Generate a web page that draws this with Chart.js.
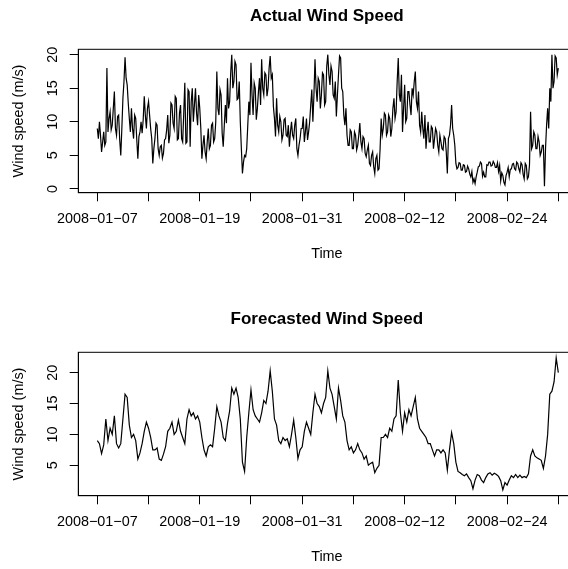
<!DOCTYPE html>
<html>
<head>
<meta charset="utf-8">
<script src="https://cdn.jsdelivr.net/npm/chart.js@4/dist/chart.umd.min.js"></script>
<style>
  html, body { margin: 0; padding: 0; background: #fff; overflow: hidden; }
  #wrap { position: relative; width: 568px; height: 569px; overflow: hidden; background: #fff; }
  canvas { position: absolute; left: 0; }
</style>
</head>
<body>
<div id="wrap">
  <canvas id="actualChart" width="600" height="303" style="top:-18px"></canvas>
  <canvas id="forecastChart" width="600" height="303" style="top:285px"></canvas>
</div>
<script>
// Wind speed series (m/s), both starting 2008-01-07 00:00
const startDate = '2008-01-07';
const actualStepDays = 0.125;   // 3-hourly observations
const forecastStepDays = 0.25;  // 6-hourly forecasts

// one row per day, 8 readings per day
const actualSpeed = [
  9.0, 7.5, 10.0, 8.0, 5.5, 7.0, 8.5, 6.5,
  7.0, 18.0, 8.5, 10.5, 11.5, 8.8, 9.5, 12.0,
  14.5, 9.0, 8.0, 10.8, 11.0, 7.3, 5.0, 9.0,
  13.5, 16.0, 19.6, 16.5, 15.5, 12.8, 10.5, 8.5,
  12.0, 9.0, 7.5, 11.0, 10.5, 7.3, 4.5, 7.8,
  8.5, 10.0, 8.3, 10.3, 13.8, 11.0, 9.0, 12.0,
  13.0, 11.0, 9.0, 7.5, 3.8, 6.0, 7.5, 9.8,
  9.5, 6.0, 5.0, 6.3, 6.5, 4.6, 5.3, 7.3,
  7.5, 8.8, 11.0, 6.8, 8.0, 12.8, 12.5, 9.8,
  9.0, 13.8, 13.5, 7.3, 7.5, 11.3, 12.5, 7.5,
  7.0, 11.3, 15.8, 6.8, 7.0, 14.8, 14.5, 6.3,
  13.0, 15.0, 10.0, 12.5, 15.0, 11.3, 9.5, 14.0,
  12.0, 9.0, 4.5, 6.5, 8.0, 5.5, 4.5, 7.0,
  9.0, 6.0, 6.5, 9.5, 9.8, 7.0, 7.5, 10.0,
  17.5, 12.0, 11.0, 14.8, 14.0, 8.3, 6.3, 9.5,
  12.5, 9.8, 16.5, 12.0, 13.0, 17.3, 20.0, 15.0,
  16.0, 19.0, 18.5, 13.3, 13.5, 16.0, 10.0, 6.0,
  2.3, 4.0, 5.0, 4.8, 6.0, 9.5, 13.0, 11.0,
  18.8, 14.0, 11.0, 15.8, 15.0, 10.3, 12.0, 14.5,
  16.5, 12.5, 19.3, 15.0, 14.0, 17.3, 17.0, 13.8,
  15.0, 18.0, 19.8, 16.5, 17.0, 12.3, 10.5, 7.8,
  13.5, 9.5, 8.5, 10.8, 10.0, 7.3, 8.0, 10.3,
  10.5, 8.0, 7.8, 9.5, 6.3, 8.5, 10.0, 8.0,
  7.5, 9.5, 10.5, 6.0, 5.0, 6.5, 7.5, 9.0,
  9.0, 10.8, 7.0, 8.5, 10.5, 7.3, 8.5, 10.0,
  12.5, 14.8, 10.0, 14.0, 19.3, 15.0, 13.0, 16.5,
  16.0, 12.0, 14.0, 17.3, 17.0, 12.5, 13.0, 18.3,
  20.0, 17.0, 15.5, 18.3, 17.5, 14.0, 13.5, 16.0,
  10.8, 14.0, 17.0, 19.8, 19.5, 15.0, 14.5, 11.0,
  9.5, 12.0, 8.0, 6.5, 6.5, 8.8, 8.5, 6.0,
  6.0, 8.5, 8.0, 5.8, 6.5, 8.0, 9.8, 7.0,
  6.0, 7.8, 7.5, 5.3, 4.8, 5.8, 6.5, 3.8,
  3.5, 5.0, 5.5, 3.3, 2.3, 4.5, 5.0, 2.8,
  3.0, 6.0, 10.5, 8.0, 9.0, 11.3, 11.0, 8.0,
  8.5, 11.0, 10.5, 7.8, 9.0, 12.0, 13.5, 10.5,
  11.5, 16.0, 19.5, 14.0, 13.0, 17.0, 8.5, 12.0,
  15.5, 10.0, 10.5, 14.5, 14.5, 12.5, 11.0, 15.0,
  14.0, 16.0, 17.5, 13.0, 12.0, 14.5, 9.5, 8.5,
  11.5, 9.0, 7.5, 11.0, 6.0, 8.5, 10.0, 7.0,
  7.0, 9.3, 9.0, 6.0, 7.5, 9.0, 8.5, 6.5,
  5.5, 8.0, 7.0, 6.0, 5.8, 7.8, 7.5, 5.5,
  2.3, 7.5, 8.0, 9.5, 12.5, 9.0, 8.0, 6.5,
  3.8, 3.0, 3.2, 3.9, 3.8, 2.8, 2.8, 3.6,
  3.5, 2.5, 2.6, 3.4, 3.0, 2.2, 1.8, 2.6,
  1.0, 1.5, 0.8, 1.8, 2.5, 3.3, 3.4, 4.0,
  3.8, 1.9, 2.5, 1.8, 1.8, 3.6, 3.5, 4.0,
  4.0, 3.4, 3.5, 4.1, 3.8, 3.2, 3.2, 3.9,
  2.6, 3.5, 1.2, 2.4, 2.0, 1.0, 0.6, 2.0,
  2.5, 3.2, 1.8, 2.9, 3.0, 3.7, 3.8, 3.0,
  2.8, 4.0, 3.8, 3.0, 2.5, 3.9, 3.6, 2.2,
  1.5, 3.8, 3.5, 1.5, 1.8, 3.6, 11.5, 6.0,
  6.5, 8.5, 8.0, 6.0, 6.0, 7.8, 7.0, 5.0,
  5.5, 6.5, 6.5, 0.4, 6.0, 9.5, 12.0, 9.0,
  15.0, 13.0, 20.0, 15.0, 16.0, 19.8, 19.5, 17.0,
  18.0
];

// one row per day, 4 forecasts per day
const forecastSpeed = [
  9.0, 8.5, 6.9, 8.3,    12.5, 9.0, 11.0, 10.0,  13.0, 8.5, 7.8, 8.5,    12.5, 16.5, 16.0, 11.5,
  9.5, 10.0, 9.0, 6.0,   7.0, 8.5, 10.5, 12.0,   11.0, 9.5, 7.5, 7.5,    7.8, 6.0, 5.8, 6.8,
  8.0, 10.5, 11.0, 12.0, 10.0, 10.5, 12.3, 10.5, 9.5, 8.5, 12.5, 14.0,   13.0, 13.5, 12.5, 13.0,
  12.0, 9.5, 7.5, 6.5,   8.0, 8.3, 8.0, 11.0,    14.5, 13.0, 12.0, 9.5,  9.0, 11.8, 13.8, 17.5,
  16.5, 17.5, 16.0, 12.5, 5.5, 4.0, 9.5, 13.5,   17.2, 14.0, 13.0, 12.5, 12.0, 13.5, 15.5, 15.0,
  17.0, 20.3, 17.0, 12.5, 11.5, 9.0, 8.5, 9.5,   9.0, 9.3, 8.0, 10.0,    12.3, 9.5, 6.1, 7.5,
  8.0, 10.5, 12.0, 11.0, 10.0, 13.5, 16.5, 15.0, 14.5, 13.5, 15.0, 16.0, 20.3, 17.5, 16.5, 14.5,
  12.5, 17.5, 15.5, 13.0, 12.0, 9.0, 7.5, 8.0,   7.0, 7.5, 8.5, 7.5,     7.0, 6.0, 6.5, 5.0,
  5.3, 5.5, 3.8, 4.5,    5.0, 9.5, 9.5, 10.0,    9.5, 11.0, 10.5, 12.5,  13.0, 18.8, 13.5, 10.5,
  13.5, 12.0, 14.0, 13.0, 14.5, 16.0, 12.5, 11.0, 10.5, 10.0, 9.5, 8.5,  8.5, 7.5, 6.5, 7.5,
  7.5, 7.0, 7.5, 7.0,    4.2, 7.5, 10.3, 8.5,    5.5, 4.0, 3.8, 3.5,     3.3, 3.6, 3.0, 2.5,
  1.2, 2.6, 3.5, 3.3,    2.6, 2.2, 3.0, 3.6,     3.8, 3.4, 3.7, 3.5,     3.2, 2.5, 1.0, 2.2,
  1.8, 2.6, 3.3, 3.0,    3.5, 3.0, 3.4, 3.0,     3.2, 3.0, 3.6, 6.5,     7.5, 6.5, 6.2, 6.0,
  5.8, 4.5, 6.5, 10.0,   16.5, 17.0, 18.5, 22.4, 20.0
];

// Date axis: a tick every 6 days, every other one labelled
const xTickDays   = [0, 6, 12, 18, 24, 30, 36, 42, 48, 54];
const xTickLabels = ['2008\u221201\u221207', '', '2008\u221201\u221219', '', '2008\u221201\u221231', '',
                     '2008\u221202\u221212', '', '2008\u221202\u221224', ''];
const yTicksActual   = [0, 5, 10, 15, 20];
const yTicksForecast = [5, 10, 15, 20];

const FONT = '"Liberation Sans", Arial, Helvetica, sans-serif';
Chart.defaults.font.family = FONT;
Chart.defaults.color = '#000';

function toPoints(values, step) {
  return values.map((v, i) => ({ x: i * step, y: v }));
}

// Closed frame round the plot region
const frame = {
  id: 'frame',
  afterDraw(chart) {
    const { ctx, chartArea: a } = chart;
    ctx.save();
    ctx.strokeStyle = '#000';
    ctx.lineWidth = 1;
    ctx.strokeRect(a.left, a.top, a.right - a.left, a.bottom - a.top);
    ctx.restore();
  }
};

// Value labels on the y axis, written parallel to the axis
const verticalTickLabels = {
  id: 'verticalTickLabels',
  afterDraw(chart) {
    const { ctx } = chart;
    const s = chart.scales.y;
    ctx.save();
    ctx.font = '14.4px ' + FONT;
    ctx.fillStyle = '#000';
    ctx.textAlign = 'center';
    ctx.textBaseline = 'middle';
    s.ticks.forEach(t => {
      const py = s.getPixelForValue(t.value);
      ctx.save();
      ctx.translate(53.3, py);
      ctx.rotate(-Math.PI / 2);
      ctx.fillText(String(t.value), 0, 0);
      ctx.restore();
    });
    ctx.restore();
  }
};

function makeChart(id, title, values, step, yMin, yMax, yTicks) {
  return new Chart(document.getElementById(id), {
    type: 'line',
    data: {
      datasets: [{
        data: toPoints(values, step),
        borderColor: '#000',
        borderWidth: 1.2,
        pointRadius: 0,
        tension: 0,
        fill: false
      }]
    },
    options: {
      responsive: false,
      animation: false,
      events: [],
      layout: { padding: { left: 0, right: 24.6, top: 0, bottom: 0 } },
      plugins: {
        legend: { display: false },
        tooltip: { enabled: false },
        title: {
          display: true,
          text: title,
          fullSize: false,
          color: '#000',
          font: { size: 17, weight: 'bold', family: FONT, lineHeight: 1.2 },
          padding: { top: 23.8, bottom: 23.1 }
        }
      },
      scales: {
        x: {
          type: 'linear',
          min: -2.226,
          max: 56.0,
          afterBuildTicks(scale) { scale.ticks = xTickDays.map(v => ({ value: v })); },
          afterFit(scale) { scale.height = 92.3; },
          ticks: {
            autoSkip: false,
            maxRotation: 0,
            minRotation: 0,
            padding: 9.5,
            color: '#000',
            font: { size: 14.4, family: FONT, lineHeight: 1.2 },
            callback(value) {
              const i = xTickDays.indexOf(value);
              return i >= 0 ? xTickLabels[i] : '';
            }
          },
          grid: {
            drawOnChartArea: false,
            drawTicks: true,
            tickLength: 8.6,
            tickColor: '#000',
            tickWidth: 1
          },
          border: { display: true, color: '#000', width: 1 },
          title: {
            display: true,
            text: 'Time',
            color: '#000',
            font: { size: 14.4, family: FONT, lineHeight: 1.2 },
            padding: { top: 0, bottom: 22.4 }
          }
        },
        y: {
          type: 'linear',
          min: yMin,
          max: yMax,
          afterBuildTicks(scale) { scale.ticks = yTicks.map(v => ({ value: v })); },
          afterFit(scale) { scale.width = 78.3; },
          ticks: { display: false },
          grid: {
            drawOnChartArea: false,
            drawTicks: true,
            tickLength: 8.6,
            tickColor: '#000',
            tickWidth: 1
          },
          border: { display: true, color: '#000', width: 1 },
          title: {
            display: true,
            text: 'Wind speed (m/s)',
            color: '#000',
            font: { size: 14.4, family: FONT, lineHeight: 1.2 },
            padding: { top: 10.4, bottom: 0 }
          }
        }
      }
    },
    plugins: [frame, verticalTickLabels]
  });
}

makeChart('actualChart', 'Actual Wind Speed', actualSpeed, actualStepDays, -0.56, 20.8, yTicksActual);
makeChart('forecastChart', 'Forecasted Wind Speed', forecastSpeed, forecastStepDays, 0.07, 23.3, yTicksForecast);
</script>
</body>
</html>
